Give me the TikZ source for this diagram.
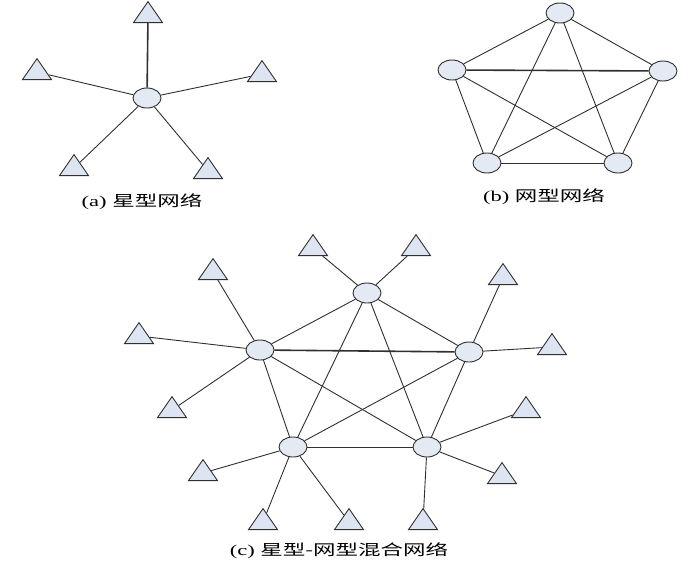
\documentclass[tikz,border=0pt]{standalone}
\usepackage{fontspec}
\usepackage{graphicx}
\setmainfont{Liberation Serif}
\newfontfamily\cjk{Noto Sans CJK SC}
\usetikzlibrary{shapes.geometric}
\definecolor{nodefill}{HTML}{E3EAF4}
\definecolor{trifill}{HTML}{DCE5F1}
\definecolor{edgecol}{HTML}{303030}
\tikzset{
  hub/.style={ellipse, draw=edgecol, fill=nodefill, line width=0.9pt, minimum width=28pt, minimum height=20pt, inner sep=0pt},
  tri/.style={isosceles triangle, isosceles triangle stretches, shape border rotate=90, draw=edgecol, fill=trifill, line width=0.9pt, minimum width=29pt, minimum height=21pt, inner sep=0pt},
  link/.style={draw=edgecol, line width=0.9pt},
  boldlink/.style={draw=edgecol, line width=1.6pt},
  caption/.style={font=\fontsize{15}{18}\selectfont, inner sep=0pt}
}
\begin{document}
\begin{tikzpicture}[x=1pt, y=-1pt]
\useasboundingbox (0,0) rectangle (700,565);
% ---------- (a) star ----------
\node[hub] (ac) at (147,98) {};
\node[tri] (a1) at (148,15) {};
\node[tri] (a2) at (37,72) {};
\node[tri] (a3) at (262,74) {};
\node[tri] (a4) at (74,168) {};
\node[tri] (a5) at (208,171) {};
\begin{scope}[on background layer/.style={}]
\end{scope}
\draw[boldlink] (ac) -- (a1);
\draw[link] (ac) -- (a2);
\draw[link] (ac) -- (a3);
\draw[link] (ac) -- (a4);
\draw[link] (ac) -- (a5);
\node[caption] (la) at (142,202) {\scalebox{1.5}[1]{(a) {\cjk 星型网络}}};
% ---------- (b) mesh ----------
\node[hub] (b1) at (560,13) {};
\node[hub] (b2) at (452,70) {};
\node[hub] (b3) at (663,71) {};
\node[hub] (b4) at (487,163) {};
\node[hub] (b5) at (618,163) {};
\draw[link] (b1) -- (b2);
\draw[link] (b1) -- (b3);
\draw[link] (b1) -- (b4);
\draw[link] (b1) -- (b5);
\draw[boldlink] (b2) -- (b3);
\draw[link] (b2) -- (b4);
\draw[link] (b2) -- (b5);
\draw[link] (b3) -- (b4);
\draw[link] (b3) -- (b5);
\draw[link] (b4) -- (b5);
\node[caption] (lb) at (544,197) {\scalebox{1.5}[1]{(b) {\cjk 网型网络}}};
% ---------- (c) hybrid ----------
\node[hub] (c1) at (367,293) {};
\node[hub] (c2) at (260,350) {};
\node[hub] (c3) at (469,352) {};
\node[hub] (c4) at (293,447) {};
\node[hub] (c5) at (427,447) {};
\node[tri] (t1) at (313,248) {};
\node[tri] (t2) at (416,248) {};
\node[tri] (t3) at (213,272) {};
\node[tri] (t4) at (139,336) {};
\node[tri] (t5) at (172,410) {};
\node[tri] (t6) at (503,277) {};
\node[tri] (t7) at (552,347) {};
\node[tri] (t8) at (526,410) {};
\node[tri] (t9) at (502,476) {};
\node[tri] (t10) at (423,522) {};
\node[tri] (t11) at (349,522) {};
\node[tri] (t12) at (263,522) {};
\node[tri] (t13) at (203,473) {};
\draw[link] (c1) -- (c2);
\draw[link] (c1) -- (c3);
\draw[link] (c1) -- (c4);
\draw[link] (c1) -- (c5);
\draw[boldlink] (c2) -- (c3);
\draw[link] (c2) -- (c4);
\draw[link] (c2) -- (c5);
\draw[link] (c3) -- (c4);
\draw[link] (c3) -- (c5);
\draw[link] (c4) -- (c5);
\draw[link] (c1) -- (t1);
\draw[link] (c1) -- (t2);
\draw[link] (c2) -- (t3);
\draw[link] (c2) -- (t4);
\draw[link] (c2) -- (t5);
\draw[link] (c3) -- (t6);
\draw[link] (c3) -- (t7);
\draw[link] (c5) -- (t8);
\draw[link] (c5) -- (t9);
\draw[link] (c5) -- (t10);
\draw[link] (c4) -- (t11);
\draw[link] (c4) -- (t12);
\draw[link] (c4) -- (t13);
\node[caption] (lc) at (339,551) {\scalebox{1.5}[1]{(c) {\cjk 星型-网型混合网络}}};
\end{tikzpicture}
\end{document}
